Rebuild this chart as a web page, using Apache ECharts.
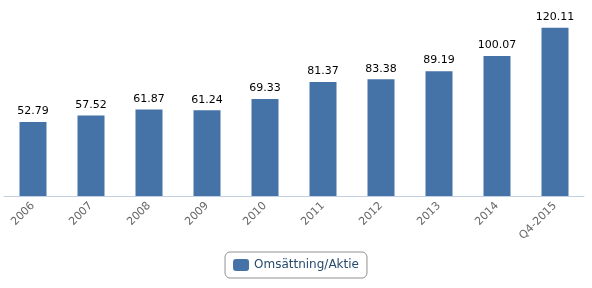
<!DOCTYPE html>
<html><head><meta charset="utf-8">
<script src="https://cdn.jsdelivr.net/npm/echarts@6/dist/echarts.min.js"></script>
<style>html,body{margin:0;padding:0;background:#fff}#c{width:592px;height:288px}</style>
</head><body><div id="c"></div>
<script>
const categories = ['2006','2007','2008','2009','2010','2011','2012','2013','2014','Q4-2015'];
const values = [52.79, 57.52, 61.87, 61.24, 69.33, 81.37, 83.38, 89.19, 100.07, 120.11];
const seriesName = 'Omsättning/Aktie';
const chart = echarts.init(document.getElementById('c'));
chart.setOption({
  animation: false,
  grid: {left: 4, right: 8, top: 0, bottom: 92, containLabel: false},
  xAxis: {
    type: 'category', data: categories,
    axisLine: {lineStyle: {color: '#C0D0E0', width: 1}},
    axisTick: {length: 5, lineStyle: {color: '#C0D0E0'}},
    axisLabel: {rotate: 45, color: '#666666', fontFamily: 'DejaVu Sans', fontSize: 11, margin: 8}
  },
  yAxis: {type: 'value', min: 0, max: 140, show: false, splitLine: {show: false}},
  legend: {
    bottom: 10, left: 'center', itemWidth: 16, itemHeight: 12, itemGap: 5,
    borderColor: '#909090', borderWidth: 1, borderRadius: 5, padding: [7, 8, 7, 8],
    textStyle: {color: '#274b6d', fontFamily: 'DejaVu Sans', fontSize: 12},
    icon: 'roundRect',
    data: [seriesName]
  },
  series: [{
    type: 'bar', name: seriesName, data: values, barWidth: 27,
    itemStyle: {color: '#4572A7'},
    label: {show: true, position: 'top', color: '#000', fontFamily: 'DejaVu Sans', fontSize: 11, distance: 5,
      formatter: p => p.value.toFixed(2)}
  }]
});
</script></body></html>
